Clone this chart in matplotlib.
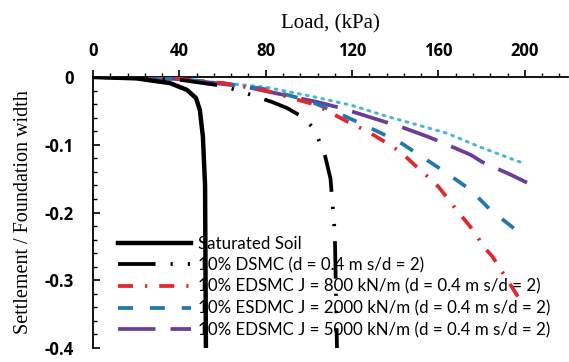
import matplotlib
matplotlib.use("Agg")
import matplotlib.pyplot as plt
from matplotlib.ticker import MultipleLocator

# ---- data ----
sat_x = [0, 20, 35.6, 43.5, 47.7, 49.5, 50.9, 51.9, 52.3]
sat_y = [0, -0.002, -0.009, -0.019, -0.031, -0.049, -0.088, -0.16, -0.4]

dsmc_x = [0, 20, 40, 60, 71, 83, 90, 97, 102, 107, 110, 112, 113]
dsmc_y = [0, -0.001, -0.004, -0.013, -0.024, -0.037, -0.046, -0.059, -0.075, -0.11, -0.15, -0.23, -0.4]

j800_x = [0, 20, 40, 60, 80, 103, 108, 119, 127, 139, 144, 149, 155, 160, 164, 169, 173, 177, 181, 185, 189, 194, 198]
j800_y = [0, -0.001, -0.003, -0.009, -0.02, -0.041, -0.049, -0.068, -0.08, -0.103, -0.115, -0.13, -0.147, -0.162, -0.178, -0.199, -0.214, -0.23, -0.251, -0.265, -0.285, -0.31, -0.33]

j2000_x = [0, 20, 40, 60, 80, 100, 116, 125, 142, 152, 163, 175, 184, 194, 199]
j2000_y = [0, -0.001, -0.003, -0.009, -0.018, -0.035, -0.057, -0.07, -0.096, -0.117, -0.140, -0.167, -0.196, -0.221, -0.236]

j5000_x = [0, 20, 40, 70, 104, 115, 143, 155, 162, 175, 180, 194, 201]
j5000_y = [0, -0.001, -0.003, -0.014, -0.037, -0.046, -0.074, -0.088, -0.097, -0.115, -0.125, -0.145, -0.156]

extra_x = [0, 20, 40, 80, 102, 120, 136, 164, 179, 199]
extra_y = [0, -0.001, -0.003, -0.015, -0.029, -0.042, -0.058, -0.083, -0.103, -0.127]

labels = ["Saturated Soil",
          "10% DSMC (d = 0.4 m s/d = 2)",
          "10% EDSMC J = 800 kN/m (d = 0.4 m s/d = 2)",
          "10% ESDMC J = 2000 kN/m (d = 0.4 m s/d = 2)",
          "10% EDSMC J = 5000 kN/m (d = 0.4 m s/d = 2)"]

x_ticks = [0, 40, 80, 120, 160, 200]
y_ticks = [0, -0.1, -0.2, -0.3, -0.4]
y_ticklabels = ["0", "-0.1", "-0.2", "-0.3", "-0.4"]

# ---- figure ----
fig = plt.figure(figsize=(5.69, 3.62), dpi=100)
ax = fig.add_axes([93/569, 1 - 348/362, (568 - 93)/569, (348 - 77)/362])

lw = 2.7
ax.plot(extra_x, extra_y, color="#4cb6d6", lw=2.2, ls=(0, (0.6, 2.0)),
        dash_capstyle="round", zorder=2)
ax.plot(j5000_x, j5000_y, color="#6a3d9a", lw=lw, ls=(0, (10, 4)), label=labels[4], zorder=3)
ax.plot(j2000_x, j2000_y, color="#2178b0", lw=lw, ls=(0, (4, 4.5)), label=labels[3], zorder=3)
ax.plot(j800_x, j800_y, color="#e3262c", lw=lw, ls=(0, (4, 3.2, 0.6, 3.2)), label=labels[2], zorder=3)
ax.plot(dsmc_x, dsmc_y, color="black", lw=lw, ls=(0, (10, 4, 0.6, 4, 0.6, 4)), label=labels[1], zorder=4)
ax.plot(sat_x, sat_y, color="black", lw=3.2, ls="-", label=labels[0], zorder=5)

ax.set_xlim(0, 220)
ax.set_ylim(-0.4, 0)

ax.spines["right"].set_visible(False)
ax.spines["bottom"].set_visible(False)
ax.spines["left"].set_linewidth(1.3)
ax.spines["top"].set_linewidth(1.3)

ax.xaxis.set_ticks_position("top")
ax.xaxis.set_label_position("top")
ax.set_xticks(x_ticks)
ax.xaxis.set_minor_locator(MultipleLocator(8))
ax.tick_params(axis="x", which="major", direction="out", length=5, width=1.2, pad=7)
ax.tick_params(axis="x", which="minor", direction="out", length=3, width=1.0)

ax.set_yticks(y_ticks)
ax.set_yticklabels(y_ticklabels)
ax.yaxis.set_minor_locator(MultipleLocator(0.02))
ax.tick_params(axis="y", which="major", direction="in", length=5, width=1.2, pad=14)
ax.tick_params(axis="y", which="minor", direction="in", length=3, width=1.0)

for t in ax.get_xticklabels() + ax.get_yticklabels():
    t.set_fontfamily("Open Sans")
    t.set_fontweight("bold")
    t.set_fontsize(12)

ax.set_xlabel("Load, (kPa)", family="Liberation Serif", fontsize=15, labelpad=10)
ax.set_ylabel("Settlement / Foundation width", family="Liberation Serif", fontsize=14.5, labelpad=8)

handles, labs = ax.get_legend_handles_labels()
order = [labs.index(l) for l in labels]
leg = ax.legend([handles[i] for i in order], [labs[i] for i in order],
                loc="lower left", bbox_to_anchor=(25/475, 10/271),
                frameon=False, prop={"family": "Lato", "size": 12.2},
                handlelength=4.3, handletextpad=0.45, labelspacing=0.32,
                borderaxespad=0, borderpad=0)

fig.savefig("out.png", dpi=100)
